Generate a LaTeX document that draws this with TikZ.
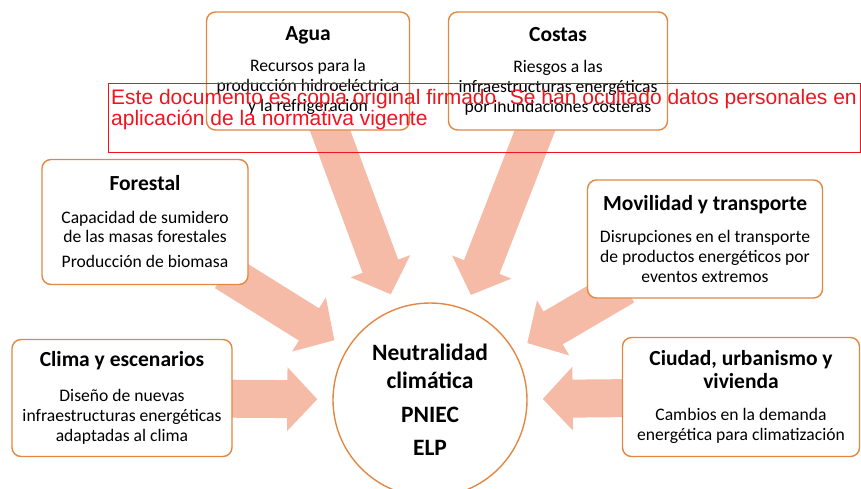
\documentclass[tikz,border=0pt]{standalone}
\usepackage{fontspec}
\setmainfont{Carlito}
\newfontfamily\avisofont{Liberation Sans}
\usepackage{xcolor}
\usetikzlibrary{arrows.meta, backgrounds}

\definecolor{boxborder}{RGB}{226,136,66}
\definecolor{arrowfill}{RGB}{246,187,166}
\definecolor{avisored}{RGB}{240,20,30}

\newcommand{\boxhead}[1]{{\fontsize{21.5}{20}\selectfont\bfseries #1}}

\begin{document}
\begin{tikzpicture}[
    x=1pt, y=-1pt,
    box/.style={rectangle, draw=boxborder, line width=1.4pt, rounded corners=9pt, fill=white, align=center, inner sep=2pt, font=\fontsize{17.6}{20}\selectfont},
    hub/.style={circle, draw=boxborder, line width=1.4pt, fill=white, minimum size=194pt, align=center, font=\fontsize{23.5}{28}\selectfont\bfseries},
    bigarrow/.style={draw=arrowfill, line width=38pt, -{Triangle[width=62pt, length=30pt]}, shorten <=-25pt, shorten >=15pt},
    aviso/.style={text=avisored, font=\avisofont\fontsize{21}{21}\selectfont, align=left, inner sep=0pt}
]
\useasboundingbox (0,0) rectangle (861,488);

\node[hub] (neutral) at (430,400) {Neutralidad\\clim\'atica\\[6pt]PNIEC\\[5pt]ELP};

\node[box, minimum width=203pt, minimum height=118pt] (agua) at (308,71)
    {\boxhead{Agua}\\[11pt]Recursos para la\\producción hidroeléctrica\\y la refrigeración};
\node[box, minimum width=219pt, minimum height=118pt] (costas) at (558,71)
    {\boxhead{Costas}\\[11pt]Riesgos a las\\infraestructuras energéticas\\por inundaciones costeras};
\node[box, minimum width=206pt, minimum height=125pt] (forestal) at (145,222)
    {\boxhead{Forestal}\\[13pt]Capacidad de sumidero\\[-1pt]de las masas forestales\\[5pt]Producción de biomasa};
\node[box, minimum width=235pt, minimum height=118pt] (movilidad) at (705,239)
    {\boxhead{Movilidad y transporte}\\[12pt]Disrupciones en el transporte\\de productos energéticos por\\eventos extremos};
\node[box, minimum width=220pt, minimum height=117pt] (clima) at (122,398)
    {\boxhead{Clima y escenarios}\\[15pt]Diseño de nuevas\\infraestructuras energéticas\\adaptadas al clima};
\node[box, minimum width=237pt, minimum height=119pt] (ciudad) at (741,397)
    {\boxhead{Ciudad, urbanismo y}\\[3pt]\boxhead{vivienda}\\[12pt]Cambios en la demanda\\energética para climatización};

% block arrows behind the boxes
\begin{scope}[on background layer]
\draw[bigarrow] (agua) -- (neutral);
\draw[bigarrow] (costas) -- (neutral);
\draw[bigarrow] (forestal) -- (neutral);
\draw[bigarrow] (movilidad) -- (neutral);
\draw[bigarrow] (clima) -- (neutral);
\draw[bigarrow] (ciudad) -- (neutral);
\end{scope}

% stamped notice
\draw[avisored, line width=0.8pt] (108,83) rectangle (860,152);
\node[aviso, anchor=base west] (aviso) at (111,125)
    {Este documento es copia original firmado. Se han ocultado datos personales en\\aplicación de la normativa vigente};

\end{tikzpicture}
\end{document}
